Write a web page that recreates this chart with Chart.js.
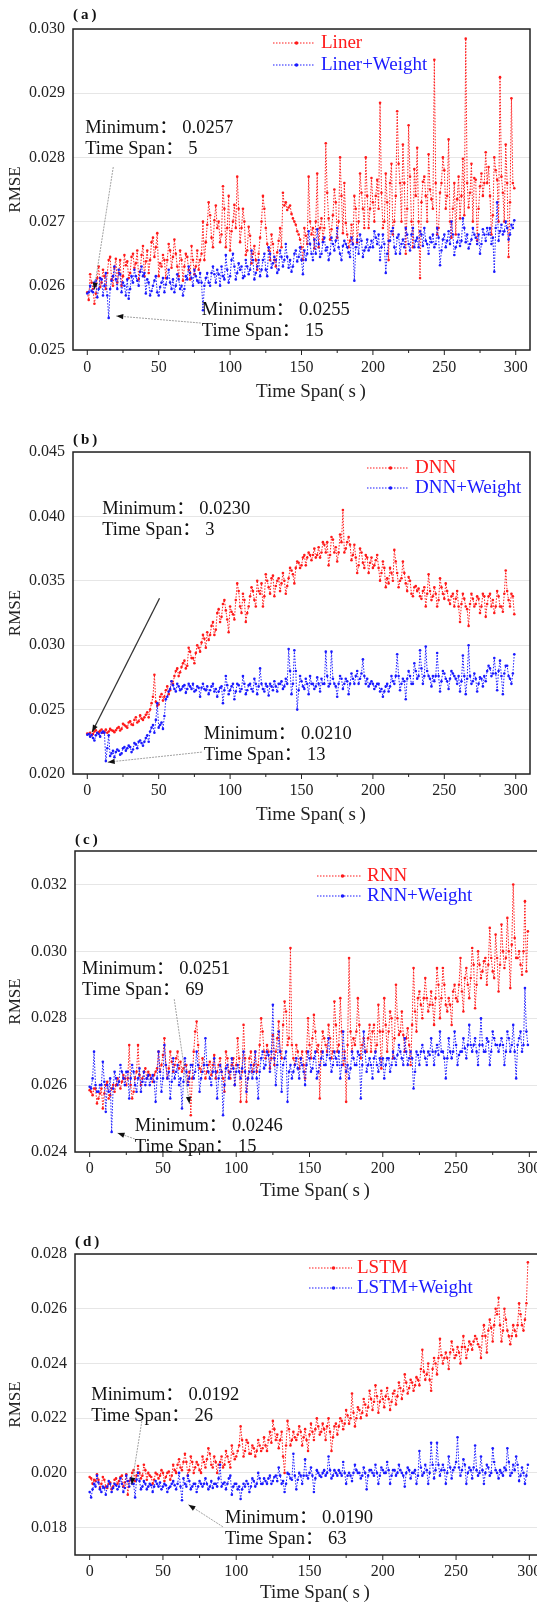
<!DOCTYPE html>
<html>
<head>
<meta charset="utf-8">
<script src="https://cdn.jsdelivr.net/npm/chart.js@4.4.1/dist/chart.umd.min.js"></script>
<style>
  html, body { margin: 0; padding: 0; background: #fff; overflow: hidden; width: 537px; height: 1603px; }
  canvas { position: absolute; left: 0; }
</style>
</head>
<body>
<script>
// sample times (s)
const timeSpan = [
  0,1,2,3,4,5,6,7,8,9,10,11,12,13,14,15,16,17,18,19,
  20,21,22,23,24,25,26,27,28,29,30,31,32,33,34,35,36,37,38,39,
  40,41,42,43,44,45,46,47,48,49,50,51,52,53,54,55,56,57,58,59,
  60,61,62,63,64,65,66,67,68,69,70,71,72,73,74,75,76,77,78,79,
  80,81,82,83,84,85,86,87,88,89,90,91,92,93,94,95,96,97,98,99,
  100,101,102,103,104,105,106,107,108,109,110,111,112,113,114,115,116,117,118,119,
  120,121,122,123,124,125,126,127,128,129,130,131,132,133,134,135,136,137,138,139,
  140,141,142,143,144,145,146,147,148,149,150,151,152,153,154,155,156,157,158,159,
  160,161,162,163,164,165,166,167,168,169,170,171,172,173,174,175,176,177,178,179,
  180,181,182,183,184,185,186,187,188,189,190,191,192,193,194,195,196,197,198,199,
  200,201,202,203,204,205,206,207,208,209,210,211,212,213,214,215,216,217,218,219,
  220,221,222,223,224,225,226,227,228,229,230,231,232,233,234,235,236,237,238,239,
  240,241,242,243,244,245,246,247,248,249,250,251,252,253,254,255,256,257,258,259,
  260,261,262,263,264,265,266,267,268,269,270,271,272,273,274,275,276,277,278,279,
  280,281,282,283,284,285,286,287,288,289,290,291,292,293,294,295,296,297,298,299
];
const xTicks = [0, 50, 100, 150, 200, 250, 300];
const yTicksA = [0.025, 0.026, 0.027, 0.028, 0.029, 0.030];
const yTicksB = [0.020, 0.025, 0.030, 0.035, 0.040, 0.045];
const yTicksC = [0.024, 0.026, 0.028, 0.030, 0.032];
const yTicksD = [0.018, 0.020, 0.022, 0.024, 0.026, 0.028];

// (a) Liner
const linerRmse = [
  0.02590,0.02578,0.02618,0.02605,0.02595,0.02572,0.02588,0.02612,0.02630,0.02598,0.02605,0.02625,0.02615,0.02595,0.02620,0.02640,0.02645,0.02610,0.02600,0.02628,
  0.02642,0.02605,0.02620,0.02640,0.02600,0.02615,0.02648,0.02632,0.02638,0.02612,0.02620,0.02645,0.02650,0.02628,0.02635,0.02655,0.02610,0.02622,0.02648,0.02662,
  0.02615,0.02638,0.02655,0.02620,0.02640,0.02668,0.02675,0.02645,0.02660,0.02682,0.02615,0.02635,0.02630,0.02648,0.02640,0.02612,0.02640,0.02665,0.02655,0.02628,
  0.02645,0.02672,0.02650,0.02630,0.02615,0.02655,0.02640,0.02608,0.02630,0.02650,0.02645,0.02625,0.02610,0.02662,0.02640,0.02618,0.02630,0.02655,0.02625,0.02640,
  0.02650,0.02700,0.02640,0.02668,0.02695,0.02730,0.02710,0.02675,0.02660,0.02702,0.02725,0.02690,0.02700,0.02668,0.02680,0.02755,0.02720,0.02660,0.02690,0.02740,
  0.02655,0.02685,0.02700,0.02726,0.02690,0.02770,0.02720,0.02668,0.02690,0.02720,0.02700,0.02648,0.02655,0.02692,0.02678,0.02635,0.02650,0.02662,0.02640,0.02625,
  0.02650,0.02675,0.02700,0.02740,0.02720,0.02690,0.02665,0.02655,0.02640,0.02680,0.02665,0.02640,0.02630,0.02652,0.02670,0.02690,0.02660,0.02745,0.02725,0.02730,
  0.02718,0.02722,0.02725,0.02712,0.02705,0.02700,0.02695,0.02685,0.02680,0.02672,0.02660,0.02640,0.02690,0.02678,0.02665,0.02770,0.02700,0.02680,0.02690,0.02658,
  0.02700,0.02775,0.02660,0.02690,0.02705,0.02672,0.02690,0.02822,0.02745,0.02705,0.02672,0.02688,0.02710,0.02750,0.02730,0.02675,0.02700,0.02800,0.02740,0.02682,
  0.02760,0.02698,0.02680,0.02660,0.02670,0.02695,0.02665,0.02740,0.02720,0.02668,0.02700,0.02775,0.02745,0.02720,0.02690,0.02800,0.02740,0.02690,0.02720,0.02768,
  0.02730,0.02700,0.02740,0.02765,0.02720,0.02885,0.02745,0.02690,0.02700,0.02775,0.02730,0.02640,0.02760,0.02790,0.02680,0.02700,0.02740,0.02872,0.02790,0.02760,
  0.02700,0.02820,0.02760,0.02650,0.02720,0.02850,0.02770,0.02700,0.02660,0.02782,0.02740,0.02815,0.02700,0.02612,0.02730,0.02762,0.02770,0.02740,0.02700,0.02805,
  0.02750,0.02735,0.02720,0.02952,0.02760,0.02680,0.02690,0.02745,0.02760,0.02800,0.02780,0.02720,0.02740,0.02828,0.02700,0.02675,0.02720,0.02760,0.02680,0.02735,
  0.02770,0.02705,0.02740,0.02798,0.02710,0.02985,0.02760,0.02722,0.02745,0.02790,0.02700,0.02768,0.02765,0.02670,0.02720,0.02755,0.02775,0.02740,0.02760,0.02808,
  0.02760,0.02785,0.02740,0.02680,0.02710,0.02800,0.02780,0.02765,0.02700,0.02925,0.02770,0.02745,0.02700,0.02820,0.02760,0.02645,0.02730,0.02892,0.02760,0.02752
];
const linerWeightRmse = [
  0.02588,0.02590,0.02600,0.02592,0.02590,0.02605,0.02608,0.02582,0.02595,0.02612,0.02610,0.02585,0.02600,0.02620,0.02585,0.02550,0.02595,0.02608,0.02615,0.02630,
  0.02610,0.02595,0.02625,0.02618,0.02590,0.02605,0.02600,0.02585,0.02610,0.02580,0.02595,0.02615,0.02605,0.02625,0.02615,0.02608,0.02600,0.02622,0.02630,0.02615,
  0.02620,0.02588,0.02610,0.02605,0.02585,0.02592,0.02600,0.02608,0.02615,0.02590,0.02585,0.02598,0.02605,0.02612,0.02590,0.02602,0.02612,0.02625,0.02605,0.02595,
  0.02610,0.02590,0.02600,0.02618,0.02610,0.02595,0.02600,0.02585,0.02595,0.02615,0.02610,0.02630,0.02620,0.02612,0.02600,0.02625,0.02615,0.02608,0.02605,0.02620,
  0.02605,0.02562,0.02600,0.02612,0.02620,0.02605,0.02600,0.02620,0.02630,0.02618,0.02605,0.02625,0.02618,0.02600,0.02630,0.02615,0.02610,0.02648,0.02625,0.02605,
  0.02615,0.02640,0.02650,0.02630,0.02610,0.02620,0.02635,0.02625,0.02630,0.02612,0.02615,0.02640,0.02630,0.02618,0.02625,0.02655,0.02640,0.02610,0.02620,0.02630,
  0.02640,0.02615,0.02625,0.02640,0.02650,0.02625,0.02615,0.02660,0.02650,0.02628,0.02635,0.02645,0.02640,0.02620,0.02625,0.02655,0.02645,0.02630,0.02640,0.02665,
  0.02645,0.02628,0.02640,0.02622,0.02630,0.02650,0.02655,0.02638,0.02645,0.02660,0.02640,0.02618,0.02655,0.02640,0.02650,0.02685,0.02665,0.02650,0.02640,0.02672,
  0.02650,0.02688,0.02665,0.02645,0.02650,0.02668,0.02675,0.02655,0.02660,0.02640,0.02650,0.02675,0.02665,0.02655,0.02670,0.02690,0.02660,0.02650,0.02640,0.02662,
  0.02670,0.02665,0.02660,0.02652,0.02645,0.02675,0.02665,0.02608,0.02660,0.02672,0.02650,0.02680,0.02670,0.02645,0.02655,0.02660,0.02672,0.02655,0.02660,0.02670,
  0.02660,0.02685,0.02675,0.02665,0.02680,0.02640,0.02660,0.02680,0.02665,0.02620,0.02650,0.02670,0.02670,0.02685,0.02690,0.02660,0.02650,0.02675,0.02680,0.02650,
  0.02665,0.02672,0.02660,0.02690,0.02680,0.02665,0.02655,0.02680,0.02690,0.02660,0.02670,0.02675,0.02660,0.02685,0.02680,0.02662,0.02690,0.02670,0.02665,0.02650,
  0.02675,0.02668,0.02680,0.02660,0.02665,0.02690,0.02675,0.02632,0.02655,0.02672,0.02680,0.02660,0.02670,0.02685,0.02665,0.02700,0.02680,0.02648,0.02660,0.02668,
  0.02680,0.02662,0.02670,0.02705,0.02690,0.02668,0.02680,0.02658,0.02665,0.02672,0.02690,0.02680,0.02675,0.02665,0.02680,0.02650,0.02665,0.02688,0.02680,0.02670,
  0.02690,0.02680,0.02690,0.02665,0.02675,0.02622,0.02690,0.02730,0.02670,0.02685,0.02695,0.02680,0.02685,0.02700,0.02690,0.02672,0.02680,0.02695,0.02690,0.02702
];

// (b) DNN
const dnnRmse = [
  0.02315,0.02310,0.02320,0.02300,0.02310,0.02330,0.02340,0.02318,0.02325,0.02335,0.02345,0.02320,0.02330,0.02345,0.02320,0.02330,0.02350,0.02340,0.02335,0.02325,
  0.02340,0.02355,0.02365,0.02338,0.02350,0.02390,0.02380,0.02370,0.02360,0.02400,0.02410,0.02385,0.02380,0.02420,0.02440,0.02400,0.02410,0.02455,0.02430,0.02420,
  0.02440,0.02460,0.02480,0.02440,0.02500,0.02550,0.02600,0.02770,0.02560,0.02530,0.02540,0.02600,0.02620,0.02570,0.02600,0.02650,0.02680,0.02620,0.02650,0.02720,
  0.02700,0.02760,0.02800,0.02820,0.02760,0.02790,0.02830,0.02860,0.02880,0.02820,0.02840,0.02980,0.02950,0.02900,0.02900,0.02860,0.02940,0.03000,0.02980,0.02950,
  0.03020,0.03080,0.03050,0.02980,0.03100,0.03040,0.03080,0.03150,0.03180,0.03080,0.03120,0.03250,0.03280,0.03180,0.03220,0.03320,0.03350,0.03270,0.03200,0.03100,
  0.03300,0.03260,0.03240,0.03200,0.03350,0.03480,0.03420,0.03300,0.03250,0.03400,0.03350,0.03180,0.03250,0.03300,0.03380,0.03450,0.03420,0.03350,0.03300,0.03500,
  0.03420,0.03400,0.03480,0.03300,0.03380,0.03550,0.03500,0.03450,0.03400,0.03520,0.03540,0.03380,0.03460,0.03500,0.03520,0.03420,0.03480,0.03560,0.03500,0.03400,
  0.03460,0.03520,0.03600,0.03580,0.03550,0.03480,0.03600,0.03650,0.03640,0.03600,0.03620,0.03680,0.03700,0.03620,0.03680,0.03720,0.03700,0.03660,0.03700,0.03750,
  0.03680,0.03700,0.03760,0.03680,0.03720,0.03800,0.03780,0.03720,0.03800,0.03620,0.03700,0.03840,0.03820,0.03720,0.03760,0.03650,0.03720,0.03860,0.03800,0.04050,
  0.03720,0.03750,0.03800,0.03840,0.03780,0.03660,0.03700,0.03780,0.03680,0.03560,0.03620,0.03750,0.03720,0.03640,0.03600,0.03700,0.03680,0.03560,0.03640,0.03680,
  0.03600,0.03620,0.03660,0.03700,0.03600,0.03500,0.03560,0.03650,0.03600,0.03450,0.03520,0.03480,0.03600,0.03560,0.03500,0.03740,0.03650,0.03560,0.03450,0.03500,
  0.03520,0.03650,0.03560,0.03480,0.03420,0.03530,0.03500,0.03400,0.03380,0.03450,0.03460,0.03420,0.03440,0.03380,0.03360,0.03420,0.03450,0.03300,0.03400,0.03550,
  0.03420,0.03350,0.03380,0.03450,0.03400,0.03300,0.03350,0.03520,0.03450,0.03400,0.03360,0.03480,0.03420,0.03350,0.03320,0.03380,0.03400,0.03300,0.03360,0.03420,
  0.03300,0.03180,0.03320,0.03400,0.03360,0.03300,0.03280,0.03150,0.03320,0.03400,0.03360,0.03300,0.03320,0.03380,0.03360,0.03250,0.03300,0.03400,0.03380,0.03220,
  0.03320,0.03380,0.03400,0.03300,0.03350,0.03250,0.03300,0.03420,0.03380,0.03300,0.03300,0.03260,0.03400,0.03580,0.03420,0.03350,0.03300,0.03400,0.03380,0.03240
];
const dnnWeightRmse = [
  0.02305,0.02310,0.02290,0.02305,0.02280,0.02260,0.02300,0.02320,0.02310,0.02290,0.02320,0.02330,0.02320,0.02100,0.02200,0.02300,0.02140,0.02160,0.02180,0.02130,
  0.02170,0.02190,0.02180,0.02150,0.02160,0.02200,0.02210,0.02180,0.02200,0.02220,0.02210,0.02170,0.02190,0.02240,0.02230,0.02200,0.02250,0.02260,0.02240,0.02220,
  0.02250,0.02280,0.02300,0.02250,0.02330,0.02360,0.02380,0.02320,0.02420,0.02550,0.02360,0.02380,0.02400,0.02350,0.02450,0.02580,0.02600,0.02640,0.02660,0.02720,
  0.02690,0.02660,0.02640,0.02700,0.02680,0.02650,0.02660,0.02680,0.02690,0.02630,0.02660,0.02700,0.02680,0.02660,0.02700,0.02640,0.02650,0.02680,0.02670,0.02600,
  0.02670,0.02700,0.02660,0.02650,0.02680,0.02620,0.02650,0.02680,0.02700,0.02640,0.02660,0.02600,0.02640,0.02670,0.02680,0.02550,0.02650,0.02760,0.02690,0.02620,
  0.02650,0.02680,0.02700,0.02580,0.02640,0.02700,0.02690,0.02640,0.02660,0.02760,0.02700,0.02620,0.02650,0.02690,0.02700,0.02660,0.02640,0.02740,0.02700,0.02620,
  0.02680,0.02820,0.02700,0.02660,0.02640,0.02700,0.02680,0.02610,0.02700,0.02680,0.02650,0.02720,0.02680,0.02640,0.02700,0.02700,0.02720,0.02660,0.02680,0.02740,
  0.02700,0.02970,0.02800,0.02620,0.02700,0.02960,0.02800,0.02500,0.02650,0.02760,0.02720,0.02680,0.02660,0.02740,0.02700,0.02620,0.02760,0.02700,0.02700,0.02660,
  0.02680,0.02750,0.02700,0.02640,0.02740,0.02700,0.02700,0.02950,0.02760,0.02680,0.02700,0.02950,0.02740,0.02700,0.02680,0.02600,0.02700,0.02760,0.02740,0.02660,
  0.02700,0.02740,0.02720,0.02620,0.02700,0.02780,0.02740,0.02700,0.02760,0.02800,0.02700,0.02740,0.02780,0.02890,0.02760,0.02700,0.02740,0.02680,0.02700,0.02720,
  0.02700,0.02660,0.02680,0.02700,0.02700,0.02640,0.02660,0.02600,0.02640,0.02680,0.02700,0.02640,0.02680,0.02760,0.02720,0.02700,0.02760,0.02930,0.02760,0.02650,
  0.02700,0.02740,0.02720,0.02580,0.02740,0.02800,0.02760,0.02700,0.02700,0.02860,0.02800,0.02740,0.02760,0.02960,0.02820,0.02700,0.02760,0.02990,0.02800,0.02760,
  0.02740,0.02680,0.02760,0.02720,0.02760,0.02940,0.02760,0.02640,0.02720,0.02800,0.02780,0.02740,0.02720,0.02660,0.02740,0.02800,0.02780,0.02760,0.02740,0.02700,
  0.02760,0.02640,0.02720,0.02920,0.02760,0.02620,0.02740,0.03000,0.02760,0.02700,0.02720,0.02780,0.02740,0.02640,0.02700,0.02750,0.02740,0.02680,0.02760,0.02720,
  0.02800,0.02840,0.02820,0.02760,0.02780,0.02900,0.02780,0.02650,0.02800,0.02880,0.02760,0.02620,0.02780,0.02840,0.02840,0.02760,0.02740,0.02700,0.02780,0.02930
];

// (c) RNN
const rnnRmse = [
  0.02585,0.02580,0.02570,0.02590,0.02590,0.02545,0.02560,0.02575,0.02590,0.02530,0.02575,0.02600,0.02610,0.02560,0.02570,0.02590,0.02600,0.02580,0.02600,0.02620,
  0.02610,0.02590,0.02610,0.02630,0.02620,0.02600,0.02620,0.02720,0.02600,0.02560,0.02580,0.02620,0.02640,0.02720,0.02630,0.02600,0.02620,0.02640,0.02650,0.02620,
  0.02640,0.02630,0.02620,0.02610,0.02630,0.02640,0.02650,0.02700,0.02640,0.02660,0.02690,0.02740,0.02660,0.02620,0.02650,0.02700,0.02670,0.02640,0.02660,0.02680,
  0.02700,0.02650,0.02670,0.02640,0.02650,0.02660,0.02660,0.02610,0.02640,0.02510,0.02620,0.02700,0.02760,0.02790,0.02720,0.02650,0.02640,0.02680,0.02660,0.02620,
  0.02640,0.02660,0.02670,0.02630,0.02660,0.02690,0.02620,0.02640,0.02660,0.02680,0.02640,0.02620,0.02580,0.02700,0.02680,0.02640,0.02620,0.02660,0.02680,0.02600,
  0.02660,0.02740,0.02680,0.02550,0.02640,0.02780,0.02680,0.02550,0.02620,0.02680,0.02700,0.02640,0.02660,0.02700,0.02640,0.02660,0.02720,0.02800,0.02760,0.02700,
  0.02680,0.02720,0.02700,0.02650,0.02680,0.02750,0.02660,0.02700,0.02740,0.02790,0.02700,0.02680,0.02780,0.02850,0.02820,0.02720,0.02740,0.03010,0.02720,0.02680,
  0.02660,0.02720,0.02700,0.02650,0.02680,0.02700,0.02660,0.02620,0.02700,0.02800,0.02720,0.02680,0.02740,0.02810,0.02760,0.02700,0.02720,0.02560,0.02700,0.02760,
  0.02740,0.02720,0.02700,0.02780,0.02740,0.02680,0.02700,0.02850,0.02780,0.02700,0.02720,0.02860,0.02760,0.02660,0.02700,0.02550,0.02720,0.02980,0.02760,0.02700,
  0.02740,0.02720,0.02760,0.02860,0.02780,0.02680,0.02720,0.02740,0.02700,0.02700,0.02740,0.02780,0.02700,0.02760,0.02780,0.02700,0.02720,0.02840,0.02760,0.02650,
  0.02760,0.02860,0.02780,0.02700,0.02760,0.02820,0.02800,0.02680,0.02740,0.02900,0.02800,0.02750,0.02760,0.02820,0.02750,0.02700,0.02740,0.02770,0.02720,0.02660,
  0.02780,0.02950,0.02820,0.02760,0.02860,0.02880,0.02840,0.02800,0.02860,0.02920,0.02860,0.02820,0.02840,0.02880,0.02840,0.02780,0.02860,0.02950,0.02900,0.02800,
  0.02860,0.02950,0.02900,0.02840,0.02820,0.02860,0.02840,0.02780,0.02880,0.02900,0.02860,0.02850,0.02900,0.02980,0.02880,0.02820,0.02920,0.02950,0.02900,0.02860,
  0.02920,0.03010,0.02960,0.02830,0.02900,0.03000,0.02960,0.02920,0.02940,0.02970,0.02980,0.02900,0.02960,0.03070,0.02980,0.02940,0.02920,0.03050,0.02980,0.02880,
  0.02960,0.03080,0.03000,0.02950,0.02980,0.03100,0.03000,0.02890,0.03020,0.03200,0.03040,0.02980,0.02980,0.03000,0.02960,0.02930,0.03000,0.03150,0.02940,0.03060
];
const rnnWeightRmse = [
  0.02595,0.02590,0.02620,0.02700,0.02600,0.02580,0.02580,0.02600,0.02600,0.02670,0.02610,0.02520,0.02600,0.02580,0.02620,0.02460,0.02590,0.02640,0.02620,0.02600,
  0.02610,0.02660,0.02640,0.02620,0.02600,0.02640,0.02640,0.02560,0.02620,0.02660,0.02640,0.02600,0.02580,0.02620,0.02650,0.02580,0.02610,0.02640,0.02600,0.02620,
  0.02630,0.02600,0.02620,0.02630,0.02610,0.02550,0.02620,0.02700,0.02640,0.02580,0.02620,0.02720,0.02660,0.02620,0.02640,0.02560,0.02610,0.02680,0.02620,0.02640,
  0.02660,0.02600,0.02620,0.02530,0.02610,0.02680,0.02640,0.02600,0.02620,0.02660,0.02660,0.02620,0.02640,0.02700,0.02660,0.02580,0.02620,0.02640,0.02660,0.02740,
  0.02660,0.02640,0.02620,0.02600,0.02640,0.02680,0.02640,0.02560,0.02620,0.02660,0.02640,0.02510,0.02600,0.02650,0.02660,0.02620,0.02640,0.02680,0.02650,0.02600,
  0.02640,0.02660,0.02640,0.02620,0.02650,0.02700,0.02640,0.02580,0.02620,0.02640,0.02660,0.02620,0.02640,0.02700,0.02620,0.02560,0.02640,0.02680,0.02700,0.02650,
  0.02660,0.02700,0.02690,0.02640,0.02700,0.02840,0.02680,0.02600,0.02660,0.02760,0.02700,0.02580,0.02660,0.02680,0.02700,0.02550,0.02640,0.02660,0.02620,0.02640,
  0.02660,0.02680,0.02650,0.02620,0.02680,0.02660,0.02640,0.02600,0.02660,0.02700,0.02680,0.02640,0.02650,0.02680,0.02700,0.02620,0.02640,0.02660,0.02680,0.02700,
  0.02660,0.02660,0.02690,0.02740,0.02680,0.02640,0.02660,0.02700,0.02680,0.02660,0.02700,0.02620,0.02660,0.02760,0.02680,0.02640,0.02660,0.02620,0.02650,0.02700,
  0.02680,0.02660,0.02660,0.02700,0.02690,0.02560,0.02660,0.02760,0.02700,0.02640,0.02660,0.02680,0.02660,0.02620,0.02680,0.02700,0.02660,0.02640,0.02680,0.02660,
  0.02680,0.02620,0.02660,0.02680,0.02680,0.02640,0.02660,0.02700,0.02680,0.02660,0.02690,0.02720,0.02700,0.02680,0.02660,0.02740,0.02700,0.02660,0.02680,0.02700,
  0.02680,0.02590,0.02640,0.02700,0.02690,0.02660,0.02700,0.02720,0.02700,0.02680,0.02660,0.02700,0.02690,0.02740,0.02700,0.02660,0.02700,0.02720,0.02690,0.02760,
  0.02700,0.02700,0.02680,0.02620,0.02680,0.02740,0.02700,0.02680,0.02700,0.02760,0.02720,0.02660,0.02690,0.02700,0.02700,0.02740,0.02710,0.02680,0.02720,0.02780,
  0.02720,0.02700,0.02720,0.02740,0.02700,0.02660,0.02720,0.02800,0.02720,0.02700,0.02700,0.02740,0.02730,0.02660,0.02700,0.02760,0.02740,0.02720,0.02720,0.02700,
  0.02720,0.02740,0.02720,0.02660,0.02700,0.02760,0.02740,0.02700,0.02720,0.02780,0.02700,0.02620,0.02720,0.02740,0.02760,0.02700,0.02720,0.02890,0.02760,0.02720
];

// (d) LSTM
const lstmRmse = [
  0.01985,0.01980,0.01960,0.01975,0.01970,0.01995,0.01975,0.01945,0.01960,0.01985,0.01975,0.01950,0.01945,0.01960,0.01965,0.01940,0.01950,0.01975,0.01980,0.01960,
  0.01970,0.01985,0.01990,0.01950,0.01965,0.01995,0.01920,0.01970,0.01975,0.02000,0.02010,0.01970,0.01990,0.02025,0.02000,0.01980,0.01990,0.02030,0.02010,0.01975,
  0.02000,0.01990,0.01985,0.01960,0.01975,0.02000,0.01995,0.01980,0.01990,0.02010,0.02000,0.01970,0.01985,0.02000,0.02005,0.01975,0.01990,0.02030,0.02010,0.02000,
  0.02030,0.02050,0.02020,0.02010,0.02040,0.02070,0.02040,0.01990,0.02010,0.02060,0.02040,0.02000,0.02020,0.02040,0.02030,0.02010,0.02000,0.02060,0.02040,0.02020,
  0.02050,0.02090,0.02070,0.02030,0.02020,0.02060,0.02040,0.02000,0.02030,0.02040,0.02060,0.02020,0.02030,0.02080,0.02060,0.02040,0.02020,0.02100,0.02070,0.02050,
  0.02060,0.02080,0.02100,0.02170,0.02120,0.02060,0.02080,0.02120,0.02110,0.02070,0.02070,0.02100,0.02090,0.02060,0.02080,0.02120,0.02100,0.02080,0.02090,0.02130,
  0.02100,0.02080,0.02120,0.02150,0.02110,0.02190,0.02160,0.02120,0.02140,0.02090,0.02120,0.02150,0.02060,0.02000,0.02100,0.02190,0.02160,0.02100,0.02120,0.02150,
  0.02130,0.02120,0.02140,0.02170,0.02150,0.02100,0.02130,0.02160,0.02120,0.02080,0.02140,0.02180,0.02150,0.02120,0.02160,0.02200,0.02170,0.02140,0.02150,0.02180,
  0.02160,0.02120,0.02170,0.02200,0.02150,0.02080,0.02130,0.02170,0.02180,0.02140,0.02170,0.02200,0.02190,0.02160,0.02180,0.02230,0.02210,0.02180,0.02200,0.02290,
  0.02220,0.02170,0.02200,0.02240,0.02230,0.02200,0.02220,0.02270,0.02250,0.02210,0.02240,0.02300,0.02270,0.02230,0.02260,0.02320,0.02280,0.02220,0.02260,0.02300,
  0.02270,0.02240,0.02280,0.02310,0.02270,0.02230,0.02260,0.02290,0.02300,0.02250,0.02280,0.02330,0.02310,0.02270,0.02300,0.02360,0.02330,0.02290,0.02310,0.02340,
  0.02330,0.02300,0.02320,0.02350,0.02340,0.02320,0.02380,0.02450,0.02370,0.02340,0.02360,0.02400,0.02340,0.02300,0.02380,0.02420,0.02400,0.02360,0.02420,0.02490,
  0.02430,0.02400,0.02420,0.02440,0.02420,0.02380,0.02440,0.02480,0.02450,0.02420,0.02430,0.02460,0.02440,0.02400,0.02460,0.02500,0.02460,0.02420,0.02450,0.02480,
  0.02470,0.02450,0.02480,0.02500,0.02490,0.02470,0.02460,0.02420,0.02500,0.02540,0.02500,0.02440,0.02520,0.02560,0.02530,0.02480,0.02540,0.02600,0.02580,0.02640,
  0.02540,0.02480,0.02520,0.02600,0.02560,0.02520,0.02500,0.02470,0.02500,0.02540,0.02520,0.02500,0.02540,0.02620,0.02580,0.02540,0.02520,0.02560,0.02620,0.02770
];
const lstmWeightRmse = [
  0.01930,0.01910,0.01940,0.01960,0.01950,0.01990,0.01965,0.01940,0.01930,0.01950,0.01945,0.01920,0.01950,0.01970,0.01960,0.01930,0.01945,0.01960,0.01955,0.01940,
  0.01950,0.01980,0.01960,0.01930,0.01945,0.01990,0.01970,0.01950,0.01980,0.01960,0.01960,0.01910,0.01975,0.02000,0.01970,0.01940,0.01950,0.01970,0.01960,0.01940,
  0.01950,0.01960,0.01955,0.01930,0.01950,0.01970,0.01960,0.01950,0.01965,0.01940,0.01950,0.01960,0.01955,0.01930,0.01945,0.01950,0.01960,0.01970,0.01955,0.01940,
  0.01960,0.02000,0.01950,0.01900,0.01980,0.01960,0.01950,0.01990,0.01970,0.01940,0.01950,0.01960,0.01960,0.01930,0.01950,0.01970,0.01960,0.01950,0.01960,0.01980,
  0.01960,0.01940,0.01950,0.01970,0.01945,0.01960,0.01960,0.01950,0.01980,0.02030,0.01950,0.01960,0.01965,0.01940,0.01960,0.01980,0.01990,0.01920,0.01950,0.01960,
  0.01960,0.01940,0.01950,0.01905,0.01940,0.01960,0.01950,0.01970,0.01960,0.01930,0.01950,0.01980,0.01970,0.01950,0.01960,0.02000,0.01980,0.01960,0.01960,0.01980,
  0.01970,0.01960,0.01980,0.01990,0.01960,0.01970,0.01985,0.01990,0.01970,0.02020,0.01990,0.01960,0.01970,0.01930,0.01960,0.02000,0.01995,0.01980,0.01975,0.02070,
  0.01990,0.01940,0.01975,0.02000,0.01990,0.01960,0.01990,0.02050,0.01990,0.01980,0.02000,0.02020,0.01990,0.01930,0.01980,0.02010,0.02000,0.01990,0.01985,0.02000,
  0.02010,0.01990,0.02000,0.02060,0.02010,0.01980,0.01990,0.02010,0.02000,0.01990,0.02010,0.02000,0.01990,0.02040,0.02000,0.01960,0.01990,0.02000,0.01990,0.01970,
  0.02000,0.02030,0.02010,0.02000,0.02000,0.01980,0.01990,0.02020,0.02000,0.01940,0.01990,0.02010,0.02010,0.02000,0.01990,0.02030,0.02000,0.01960,0.01990,0.02020,
  0.02010,0.02000,0.02000,0.02040,0.02010,0.01960,0.01990,0.02010,0.02010,0.01990,0.02000,0.02030,0.02010,0.02000,0.01990,0.01950,0.02000,0.02020,0.02010,0.01980,
  0.02000,0.02000,0.02010,0.01960,0.01990,0.02080,0.02020,0.01990,0.02000,0.02030,0.02010,0.01960,0.02000,0.02110,0.02030,0.01980,0.02010,0.02110,0.02030,0.01990,
  0.02010,0.02030,0.02010,0.01960,0.02000,0.02060,0.02020,0.01980,0.02010,0.02020,0.02040,0.02130,0.02020,0.01990,0.02010,0.02050,0.02030,0.01960,0.02000,0.02020,
  0.02010,0.01980,0.02020,0.02100,0.02010,0.01990,0.02000,0.02060,0.02010,0.01960,0.02000,0.02030,0.02020,0.01990,0.02000,0.02090,0.02040,0.02010,0.02000,0.01980,
  0.02010,0.02000,0.01990,0.02020,0.02010,0.02090,0.02040,0.01990,0.02000,0.02030,0.02010,0.02060,0.02030,0.01970,0.01990,0.02020,0.02000,0.01960,0.01990,0.02030
];

const FONT = "'Liberation Serif', 'Times New Roman', 'Noto Sans CJK SC', serif";
const COLORS = ['#ff1a1a', '#1a1aff'];
const X_TITLE = 'Time Span(\u2009s\u2009)';

// page layout of each panel (page pixels)
const panels = [
  { label: '(\u2009a\u2009)', names: ['Liner', 'Liner+Weight'], series: [linerRmse, linerWeightRmse],
    yTicks: yTicksA, yMin: 0.025, yMax: 0.030,
    box: { top: 0, height: 415, width: 537, areaTop: 29, areaBottom: 350, areaLeft: 73, areaRight: 530, tickY: 368, titleX: 311, titleY: 392, labelY: 15 },
    legend: { x1: 273, x2: 314, tx: 321, y: [43, 65] },
    notes: [
      { text: ['Minimum： 0.0257', 'Time Span： 5'], at: [-1.5, 0.02845], from: [18.2, 0.02785], to: [4.8, 0.02594] },
      { text: ['Minimum： 0.0255', 'Time Span： 15'], at: [80.2, 0.02562], from: [79.5, 0.02542], to: [20.3, 0.02553] }
    ] },
  { label: '(\u2009b\u2009)', names: ['DNN', 'DNN+Weight'], series: [dnnRmse, dnnWeightRmse],
    yTicks: yTicksB, yMin: 0.020, yMax: 0.045,
    box: { top: 425, height: 400, width: 537, areaTop: 452, areaBottom: 774, areaLeft: 73, areaRight: 530, tickY: 791, titleX: 311, titleY: 815, labelY: 440 },
    legend: { x1: 367, x2: 408, tx: 415, y: [468, 488] },
    notes: [
      { text: ['Minimum： 0.0230', 'Time Span： 3'], at: [10.4, 0.04060], from: [50.6, 0.03365], to: [3.4, 0.02326], solid: true },
      { text: ['Minimum： 0.0210', 'Time Span： 13'], at: [81.6, 0.02310], from: [80.2, 0.02170], to: [14.3, 0.02092] }
    ] },
  { label: '(\u2009c\u2009)', names: ['RNN', 'RNN+Weight'], series: [rnnRmse, rnnWeightRmse],
    yTicks: yTicksC, yMin: 0.024, yMax: 0.033,
    box: { top: 830, height: 380, width: 550, areaTop: 851, areaBottom: 1152, areaLeft: 75, areaRight: 544, tickY: 1169, titleX: 315, titleY: 1191, labelY: 840 },
    legend: { x1: 317, x2: 362, tx: 367, y: [876, 896] },
    notes: [
      { text: ['Minimum： 0.0251', 'Time Span： 69'], at: [-5.2, 0.02947], from: [57.7, 0.02857], to: [68.1, 0.02544] },
      { text: ['Minimum： 0.0246', 'Time Span： 15'], at: [30.8, 0.02478], from: [30.8, 0.02439], to: [19.0, 0.02457] }
    ] },
  { label: '(\u2009d\u2009)', names: ['LSTM', 'LSTM+Weight'], series: [lstmRmse, lstmWeightRmse],
    yTicks: yTicksD, yMin: 0.017, yMax: 0.028,
    box: { top: 1225, height: 378, width: 550, areaTop: 1254, areaBottom: 1555, areaLeft: 75, areaRight: 544, tickY: 1572, titleX: 315, titleY: 1593, labelY: 1242 },
    legend: { x1: 309, x2: 352, tx: 357, y: [1268, 1288] },
    notes: [
      { text: ['Minimum： 0.0192', 'Time Span： 26'], at: [1.1, 0.02285], from: [35.6, 0.02189], to: [28.7, 0.01957] },
      { text: ['Minimum： 0.0190', 'Time Span： 63'], at: [92.3, 0.01836], from: [90.9, 0.01803], to: [67.4, 0.01884] }
    ] }
];

function arrow(ctx, x1, y1, x2, y2, solid) {
  ctx.save();
  ctx.strokeStyle = solid ? '#333' : '#8a8a8a';
  ctx.lineWidth = solid ? 1.3 : 0.8;
  if (!solid) ctx.setLineDash([2, 1]);
  ctx.beginPath(); ctx.moveTo(x1, y1); ctx.lineTo(x2, y2); ctx.stroke();
  ctx.setLineDash([]);
  const a = Math.atan2(y2 - y1, x2 - x1);
  ctx.fillStyle = '#111';
  ctx.beginPath();
  ctx.moveTo(x2, y2);
  ctx.lineTo(x2 - 7 * Math.cos(a) + 2.6 * Math.sin(a), y2 - 7 * Math.sin(a) - 2.6 * Math.cos(a));
  ctx.lineTo(x2 - 7 * Math.cos(a) - 2.6 * Math.sin(a), y2 - 7 * Math.sin(a) + 2.6 * Math.cos(a));
  ctx.closePath(); ctx.fill();
  ctx.restore();
}

function panelPlugin(p) {
  return {
    id: 'panelDeco',
    afterDraw(chart) {
      const { ctx, chartArea: ca, scales: { x, y } } = chart;
      const off = p.box.top;
      ctx.save();
      // frame
      ctx.strokeStyle = '#222';
      ctx.lineWidth = 1.5;
      ctx.strokeRect(ca.left, ca.top, ca.right - ca.left, ca.bottom - ca.top);
      // x tick marks, major + minor
      ctx.lineWidth = 1;
      xTicks.forEach((v, i) => {
        const px = x.getPixelForValue(v);
        ctx.beginPath(); ctx.moveTo(px, ca.bottom); ctx.lineTo(px, ca.bottom + 5); ctx.stroke();
        if (i < xTicks.length - 1) {
          const mx = x.getPixelForValue((v + xTicks[i + 1]) / 2);
          ctx.beginPath(); ctx.moveTo(mx, ca.bottom); ctx.lineTo(mx, ca.bottom + 3); ctx.stroke();
        }
      });
      ctx.textBaseline = 'middle';
      // x axis title
      ctx.fillStyle = '#222';
      ctx.textAlign = 'center';
      ctx.font = '19px ' + FONT;
      ctx.fillText(X_TITLE, p.box.titleX, p.box.titleY - off);
      // panel label
      ctx.fillStyle = '#111';
      ctx.font = 'bold 15px ' + FONT;
      ctx.textAlign = 'left';
      ctx.fillText(p.label, ca.left, p.box.labelY - off);
      // legend
      chart.data.datasets.forEach((ds, i) => {
        const ly = p.legend.y[i] - off;
        ctx.strokeStyle = ds.borderColor;
        ctx.lineWidth = 1.1;
        ctx.setLineDash([1.5, 1.5]);
        ctx.beginPath(); ctx.moveTo(p.legend.x1, ly); ctx.lineTo(p.legend.x2, ly); ctx.stroke();
        ctx.setLineDash([]);
        ctx.fillStyle = ds.borderColor;
        ctx.beginPath(); ctx.arc((p.legend.x1 + p.legend.x2) / 2 + 3, ly, 1.8, 0, Math.PI * 2); ctx.fill();
        ctx.font = '19px ' + FONT;
        ctx.fillText(ds.label, p.legend.tx, ly);
      });
      // minimum annotations
      p.notes.forEach(n => {
        ctx.fillStyle = '#111';
        ctx.font = '18.5px ' + FONT;
        const tx = x.getPixelForValue(n.at[0]);
        const ty = y.getPixelForValue(n.at[1]);
        n.text.forEach((t, k) => ctx.fillText(t, tx, ty + k * 21));
        arrow(ctx, x.getPixelForValue(n.from[0]), y.getPixelForValue(n.from[1]),
          x.getPixelForValue(n.to[0]), y.getPixelForValue(n.to[1]), n.solid);
      });
      ctx.restore();
    }
  };
}

panels.forEach(p => {
  const b = p.box;
  const cv = document.createElement('canvas');
  cv.width = b.width;
  cv.height = b.height;
  cv.style.top = b.top + 'px';
  document.body.appendChild(cv);
  const bottom = b.top + b.height;

  new Chart(cv, {
    type: 'line',
    data: {
      datasets: p.names.map((name, i) => ({
        label: name,
        data: timeSpan.map((t, k) => ({ x: t, y: p.series[i][k] })),
        borderColor: COLORS[i],
        backgroundColor: COLORS[i],
        borderWidth: 1,
        borderDash: [1.5, 1.5],
        pointRadius: 1.3,
        pointBorderWidth: 0,
        pointHoverRadius: 0,
        tension: 0,
        order: 1 - i
      }))
    },
    options: {
      responsive: false,
      animation: false,
      devicePixelRatio: 1,
      layout: { padding: { top: b.areaTop - b.top, right: b.width - b.areaRight, left: 0, bottom: 0 } },
      plugins: { legend: { display: false }, tooltip: { enabled: false } },
      scales: {
        x: {
          type: 'linear', min: -10, max: 310,
          afterBuildTicks: s => { s.ticks = xTicks.map(v => ({ value: v })); },
          afterFit: s => { s.height = bottom - b.areaBottom; },
          grid: { display: false, drawTicks: false },
          border: { display: false },
          ticks: { font: { family: FONT, size: 16 }, color: '#222', padding: b.tickY - b.areaBottom - 9.6, maxRotation: 0, autoSkip: false },
          title: { display: false }
        },
        y: {
          min: p.yMin, max: p.yMax,
          afterBuildTicks: s => { s.ticks = p.yTicks.map(v => ({ value: v })); },
          afterFit: s => { s.width = b.areaLeft; },
          grid: { color: '#e6e6e6', lineWidth: 1, drawTicks: false },
          border: { display: false },
          ticks: { font: { family: FONT, size: 16 }, color: '#222', padding: 8, callback: v => v.toFixed(3) },
          title: { display: true, text: 'RMSE', color: '#222', font: { family: FONT, size: 17 }, padding: { top: 5, bottom: 0 } }
        }
      }
    },
    plugins: [panelPlugin(p)]
  });
});
</script>
</body>
</html>
